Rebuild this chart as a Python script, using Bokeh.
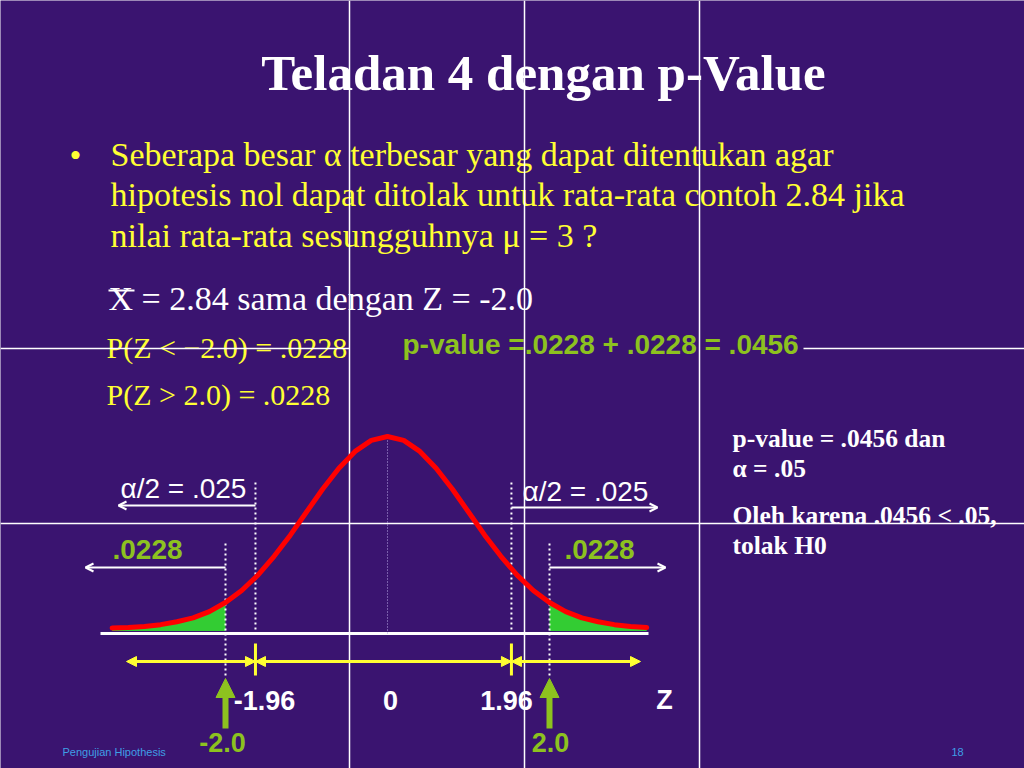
from bokeh.plotting import figure
from bokeh.models import Range1d, Arrow, NormalHead, OpenHead
from bokeh.embed import file_html
from bokeh.resources import INLINE
from bokeh.core.properties import value

# ---------------- data ----------------
title_text = "Teladan 4 dengan p-Value"
question_lines = [
    "Seberapa besar α terbesar yang dapat ditentukan agar",
    "hipotesis nol dapat ditolak untuk rata-rata contoh 2.84 jika",
    "nilai rata-rata sesungguhnya μ = 3 ?",
]
statement = "X = 2.84 sama dengan Z = -2.0"
prob_lines = ["P(Z < −2.0) = .0228", "P(Z > 2.0) = .0228"]
pvalue_sum = "p-value =.0228 + .0228 = .0456"
conclusion_lines = ["p-value = .0456 dan", "α = .05", "Oleh karena .0456 < .05,", "tolak H0"]
alpha_label = "α/2 = .025"
tail_label = ".0228"
axis_labels = ["-1.96", "0", "1.96", "Z"]
obs_z = [-2.0, 2.0]
obs_labels = ["-2.0", "2.0"]
footer_text = "Pengujian Hipothesis"
page_number = "18"

# standard normal curve (z, density)
curve_z = [-3.4, -3.2, -3.0, -2.8, -2.6, -2.4, -2.2, -2.0, -1.8, -1.6, -1.4, -1.2,
           -1.0, -0.8, -0.6, -0.4, -0.2, 0.0, 0.2, 0.4, 0.6, 0.8, 1.0, 1.2, 1.4,
           1.6, 1.8, 2.0, 2.2, 2.4, 2.6, 2.8, 3.0, 3.2]
curve_density = [0.001, 0.002, 0.004, 0.008, 0.014, 0.022, 0.035, 0.054, 0.079,
                 0.111, 0.150, 0.194, 0.242, 0.290, 0.333, 0.368, 0.391, 0.399,
                 0.391, 0.368, 0.333, 0.290, 0.242, 0.194, 0.150, 0.111, 0.079,
                 0.054, 0.035, 0.022, 0.014, 0.008, 0.004, 0.002]

# ---------------- layout (slide is not drawn to scale) ----------------
CRIT_DRAW = [-1.63, 1.53]       # where the slide draws the ±1.96 critical lines
C, S = 387.0, 81.0              # slide px of z = 0, px per z unit
Y0, K = 628.0, 481.2            # slide px of density 0, px per density unit
W, H = 1024, 768
BG = "#3a1470"
WHITE = "#ffffff"
YELLOW = "#ffff33"
GREEN = "#8dc21f"
FILL_GREEN = "#33cc33"
RED = "#ff0000"


def zx(px):
    return (px - C) / S


p = figure(width=W, height=H, output_backend="svg", toolbar_location=None,
           x_range=Range1d((0 - C) / S, (W - C) / S),
           y_range=Range1d((Y0 - H) / K, (Y0 - 0) / K),
           x_axis_type=None, y_axis_type=None, min_border=0, title=None)
p.extra_x_ranges = {"px": Range1d(0, W)}
p.extra_y_ranges = {"px": Range1d(H, 0)}
p.background_fill_color = BG
p.border_fill_color = BG
p.outline_line_color = None


def txt(x, y, s, size, color, font="Liberation Serif", style="normal", align="left"):
    # y is the wanted baseline on the slide; bokeh draws a little lower, so lift it
    p.text(x=[x], y=[y - 0.3 * size], text=[s], x_range_name="px", y_range_name="px",
           text_font=value(font), text_font_size=f"{size}px", text_color=color,
           text_font_style=style, text_align=align, text_baseline="alphabetic")


# ---- texts ----
txt(543, 88, title_text, 51, WHITE, style="bold", align="center")
txt(69, 165, "•", 34, YELLOW)
for line, yb in zip(question_lines, [164, 204, 245]):
    txt(110, yb, line, 34, YELLOW)
txt(108, 308, statement, 34, WHITE)
p.segment(x0=[108], x1=[134], y0=[290], y1=[290], x_range_name="px", y_range_name="px",
          line_color=WHITE, line_width=2)
for line, yb in zip(prob_lines, [356, 403]):
    txt(106, yb, line, 30, YELLOW)
txt(402, 352, pvalue_sum, 28, GREEN, font="Liberation Sans", style="bold")
for line, yb in zip(conclusion_lines, [446, 476, 523, 553]):
    txt(732, yb, line, 25.5, WHITE, style="bold")

txt(120, 496, alpha_label, 28, WHITE, font="Liberation Sans")
txt(522, 499, alpha_label, 28, WHITE, font="Liberation Sans")
txt(112, 557, tail_label, 28, GREEN, font="Liberation Sans", style="bold")
txt(564, 557, tail_label, 28, GREEN, font="Liberation Sans", style="bold")

for lab, xc in zip(axis_labels, [264, 390, 506, 664]):
    txt(xc, 708, lab, 27, WHITE, font="Liberation Sans", style="bold", align="center")
for lab, xc in zip(obs_labels, [222, 550]):
    txt(xc, 750, lab, 27, GREEN, font="Liberation Sans", style="bold", align="center")

txt(62, 755, footer_text, 11, "#3f9fe6", font="Liberation Sans")
txt(957, 755, page_number, 11, "#3f9fe6", font="Liberation Sans", align="center")

# ---- overlay grid lines of the slide ----
p.segment(x0=[349, 524, 699], x1=[349, 524, 699], y0=[0] * 3, y1=[H] * 3,
          x_range_name="px", y_range_name="px", line_color=WHITE, line_width=1.5)
p.segment(x0=[0, 803, 0], x1=[349, W, W], y0=[348, 348, 523], y1=[348, 348, 523],
          x_range_name="px", y_range_name="px", line_color=WHITE, line_width=1.5)

# ---- normal curve with shaded tails ----
left_z = [z for z in curve_z if z <= obs_z[0]]
left_d = [d for z, d in zip(curve_z, curve_density) if z <= obs_z[0]]
right_z = [z for z in curve_z if z >= obs_z[1]]
right_d = [d for z, d in zip(curve_z, curve_density) if z >= obs_z[1]]
p.varea(x=left_z, y1=[-0.005] * len(left_z), y2=left_d, fill_color=FILL_GREEN)
p.varea(x=right_z, y1=[-0.005] * len(right_z), y2=right_d, fill_color=FILL_GREEN)

# baseline
p.segment(x0=[zx(100)], x1=[zx(648)], y0=[633], y1=[633], y_range_name="px",
          line_color=WHITE, line_width=3)

# dotted lines
p.segment(x0=[0.0], x1=[0.0], y0=[437], y1=[633], y_range_name="px",
          line_color="#b9a8e6", line_width=1, line_dash="1 2")
p.segment(x0=CRIT_DRAW, x1=CRIT_DRAW, y0=[482, 482], y1=[633, 633], y_range_name="px",
          line_color=WHITE, line_width=2, line_dash="2 3")
p.segment(x0=obs_z, x1=obs_z, y0=[543, 543], y1=[678, 678], y_range_name="px",
          line_color=WHITE, line_width=2, line_dash="2 3")

p.line(curve_z, curve_density, line_color=RED, line_width=5,
       line_join="round", line_cap="round")

# white arrows for alpha/2 and tail areas
for xs, xe, yy in [(CRIT_DRAW[0], zx(118), 505), (CRIT_DRAW[1], zx(657), 507),
                   (obs_z[0], zx(85), 567), (obs_z[1], zx(665), 567)]:
    p.add_layout(Arrow(x_start=xs, y_start=yy, x_end=xe, y_end=yy, y_range_name="px",
                       line_color=WHITE, line_width=2,
                       end=OpenHead(size=8, line_color=WHITE, line_width=2)))

# yellow z-axis bracket
ends = [zx(126), CRIT_DRAW[0], CRIT_DRAW[1], zx(640)]
for a, b in zip(ends[:-1], ends[1:]):
    p.add_layout(Arrow(x_start=a, y_start=661, x_end=b, y_end=661, y_range_name="px",
                       line_color=YELLOW, line_width=3,
                       start=NormalHead(size=10, fill_color=YELLOW, line_color=YELLOW),
                       end=NormalHead(size=10, fill_color=YELLOW, line_color=YELLOW)))
p.segment(x0=CRIT_DRAW, x1=CRIT_DRAW, y0=[643, 643], y1=[675, 675], y_range_name="px",
          line_color=YELLOW, line_width=3)

# green arrows marking observed z
for z in obs_z:
    p.add_layout(Arrow(x_start=z, y_start=728, x_end=z, y_end=678, y_range_name="px",
                       line_color=GREEN, line_width=6,
                       end=NormalHead(size=19, fill_color=GREEN, line_color=GREEN)))

open("out.html", "w").write(file_html(p, INLINE))
